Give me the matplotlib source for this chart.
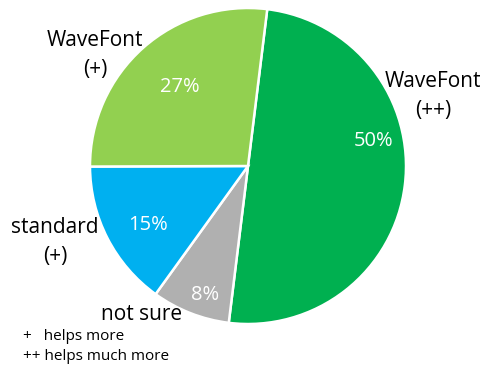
import matplotlib.pyplot as plt

# survey answers, clockwise from the top
categories = ["WaveFont\n(++)", "not sure", "standard\n(+)", "WaveFont\n(+)"]
shares = [50, 8, 15, 27]
colors = ["#00B050", "#B0B0B0", "#00B0F0", "#92D050"]

W, H = 482, 367
fig = plt.figure(figsize=(W / 100, H / 100), dpi=100)
ax = fig.add_axes([0, 0, 1, 1])

cx, cy, r = 248, H - 166, 158
wedges, _ = ax.pie(shares, colors=colors, startangle=83, counterclock=False,
                   center=(cx, cy), radius=r, frame=True,
                   wedgeprops=dict(edgecolor="white", linewidth=1.8))
ax.set_xlim(0, W)
ax.set_ylim(0, H)
ax.axis("off")

font = "Open Sans"

# percentage labels inside the slices
pct_pos = [(374, 141), (205, 295), (148, 225), (180, 87)]
for v, (x, y) in zip(shares, pct_pos):
    ax.text(x, H - y, f"{v}%", color="white", fontsize=14.5, family=font,
            ha="center", va="center")

# category labels outside the pie
lab_pos = [(433, 96), (142, 314), (55, 242), (95, 55)]
for name, (x, y) in zip(categories, lab_pos):
    ax.text(x, H - y, name, color="black", fontsize=15, family=font,
            ha="center", va="center", linespacing=1.45)

ax.text(23, H - 336, "+   helps more", fontsize=11, family=font, va="center")
ax.text(23, H - 357, "++ helps much more", fontsize=11, family=font, va="center")

fig.savefig("out.png", dpi=100)
